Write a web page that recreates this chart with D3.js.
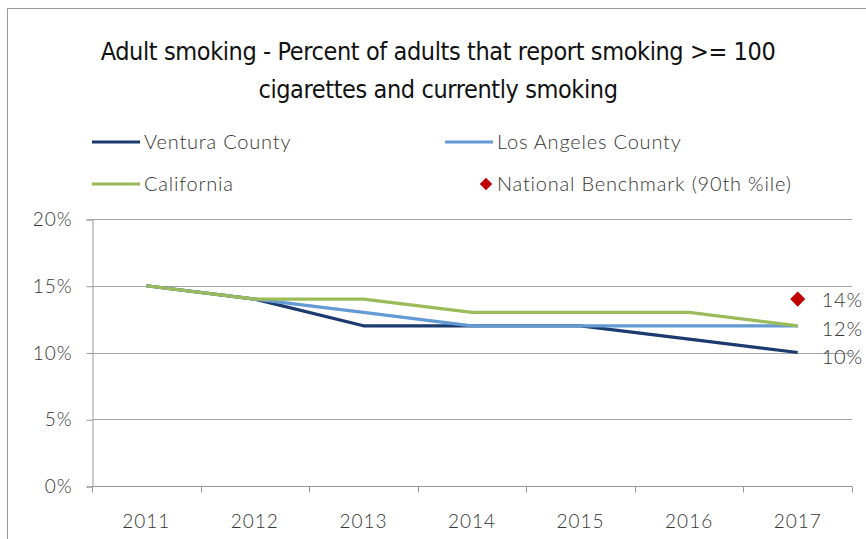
<!DOCTYPE html>
<html>
<head>
<meta charset="utf-8">
<script src="https://cdn.jsdelivr.net/npm/d3@7"></script>
<style>
  body { margin: 0; background: #fff; }
  text { font-family: Lato, "Open Sans", sans-serif; fill: #363636; font-weight: 300; }
</style>
</head>
<body>
<div id="chart"></div>
<script>
const years = ['2011', '2012', '2013', '2014', '2015', '2016', '2017'];
const ventura = [15, 14, 12, 12, 12, 11, 10];
const losAngeles = [15, 14, 13, 12, 12, 12, 12];
const california = [15, 14, 14, 13, 13, 13, 12];
const benchmarkYear = '2017';
const benchmark = 14;
const yTicks = [0, 5, 10, 15, 20];

const width = 866;
const height = 539;

const series = [
  { name: 'Ventura County', values: ventura, color: '#1b3b6f' },
  { name: 'Los Angeles County', values: losAngeles, color: '#639ad3' },
  { name: 'California', values: california, color: '#9bbb59' }
];

const svg = d3.select('#chart')
              .append('svg')
              .attr('width', width)
              .attr('height', height);

// outer chart border (only top/left visible in the crop)
svg.append('path')
   .attr('d', 'M7.5,539 V8.5 H866')
   .attr('fill', 'none')
   .attr('stroke', '#9a9a9a');

const xScale = d3.scaleBand()
                 .domain(years)
                 .range([92, 852]);

const yScale = d3.scaleLinear()
                 .domain([0, 20])
                 .range([486, 219]);

const cx = d => xScale(d) + xScale.bandwidth() / 2;

// gridlines
svg.append('g')
   .selectAll('line')
   .data(yTicks.filter(t => t > 0))
   .enter()
   .append('line')
   .attr('x1', 92)
   .attr('x2', 852)
   .attr('y1', d => Math.round(yScale(d)) + 0.5)
   .attr('y2', d => Math.round(yScale(d)) + 0.5)
   .attr('stroke', '#a6a6a6');

const yAxis = d3.axisLeft(yScale)
                .tickValues(yTicks)
                .tickFormat(d => d + '%')
                .tickSize(6)
                .tickPadding(14);

const yG = svg.append('g')
              .attr('transform', 'translate(92.5, 0.5)')
              .call(yAxis);
yG.select('.domain').attr('stroke', '#999');
yG.selectAll('.tick line').attr('stroke', '#999');
yG.selectAll('.tick text')
  .style('font-size', '19px')
  .style('letter-spacing', '1px')
  .style('font-family', 'Lato, sans-serif')
  .style('fill', '#363636');

// x axis with ticks at category boundaries
const xG = svg.append('g')
              .attr('transform', 'translate(0, 486.5)');
xG.append('line')
  .attr('x1', 92).attr('x2', 852)
  .attr('stroke', '#999');
xG.selectAll('.bound')
  .data(years.concat(['end']))
  .enter()
  .append('line')
  .attr('x1', (d, i) => Math.round(92 + i * xScale.step()) + 0.5)
  .attr('x2', (d, i) => Math.round(92 + i * xScale.step()) + 0.5)
  .attr('y1', 0)
  .attr('y2', 6)
  .attr('stroke', '#999');
xG.selectAll('.xl')
  .data(years)
  .enter()
  .append('text')
  .attr('x', d => cx(d))
  .attr('y', 41)
  .attr('text-anchor', 'middle')
  .style('font-size', '19px')
  .style('letter-spacing', '1px')
  .text(d => d);

// lines (California ends up on top, as in the original)
const line = d3.line()
               .x((d, i) => cx(years[i]))
               .y(d => yScale(d));

svg.selectAll('.series')
   .data(series)
   .enter()
   .append('path')
   .attr('class', 'series')
   .attr('d', d => line(d.values))
   .attr('fill', 'none')
   .attr('stroke', d => d.color)
   .attr('stroke-width', 3.2)
   .attr('stroke-linejoin', 'round');

// benchmark diamond
svg.append('path')
   .attr('d', d3.symbol(d3.symbolDiamond2, 145)())
   .attr('transform', `translate(${cx(benchmarkYear)}, ${yScale(benchmark)})`)
   .attr('fill', '#c00000');

// end labels
const endLabels = [
  { v: benchmark, dy: 1 },
  { v: california[6], dy: 3 },
  { v: ventura[6], dy: 4 }
];
svg.selectAll('.endlabel')
   .data(endLabels)
   .enter()
   .append('text')
   .attr('x', cx(benchmarkYear) + 24)
   .attr('y', d => yScale(d.v) + d.dy + 7)
   .style('font-size', '20px')
   .style('letter-spacing', '0.8px')
   .text(d => d.v + '%');

// title
const title = svg.append('text')
                 .attr('text-anchor', 'middle')
                 .style('font-family', '"DejaVu Sans Condensed", "Liberation Sans Narrow", sans-serif')
                 .style('font-size', '25px')
                 .style('font-weight', '400')
                 .style('letter-spacing', '-0.4px')
                 .style('fill', '#111');
title.append('tspan').attr('x', 438).attr('y', 60)
     .text('Adult smoking - Percent of adults that report smoking >= 100');
title.append('tspan').attr('x', 438).attr('y', 98)
     .text('cigarettes and currently smoking');

// legend
const legendItems = [
  { name: 'Ventura County', color: '#1b3b6f', type: 'line', x: 92, y: 142 },
  { name: 'Los Angeles County', color: '#639ad3', type: 'line', x: 445, y: 142 },
  { name: 'California', color: '#9bbb59', type: 'line', x: 92, y: 184 },
  { name: 'National Benchmark (90th %ile)', color: '#c00000', type: 'diamond', x: 445, y: 184 }
];
const lg = svg.selectAll('.legend')
              .data(legendItems)
              .enter()
              .append('g')
              .attr('transform', d => `translate(${d.x}, ${d.y})`);
lg.filter(d => d.type === 'line')
  .append('line')
  .attr('x1', 0).attr('x2', 48)
  .attr('stroke', d => d.color)
  .attr('stroke-width', 3.2);
lg.filter(d => d.type === 'diamond')
  .append('path')
  .attr('d', d3.symbol(d3.symbolDiamond2, 100)())
  .attr('transform', 'translate(41, 0)')
  .attr('fill', d => d.color);
lg.append('text')
  .attr('x', 52)
  .attr('y', 7)
  .style('font-size', '20px')
  .style('letter-spacing', '0.8px')
  .text(d => d.name);
</script>
</body>
</html>
